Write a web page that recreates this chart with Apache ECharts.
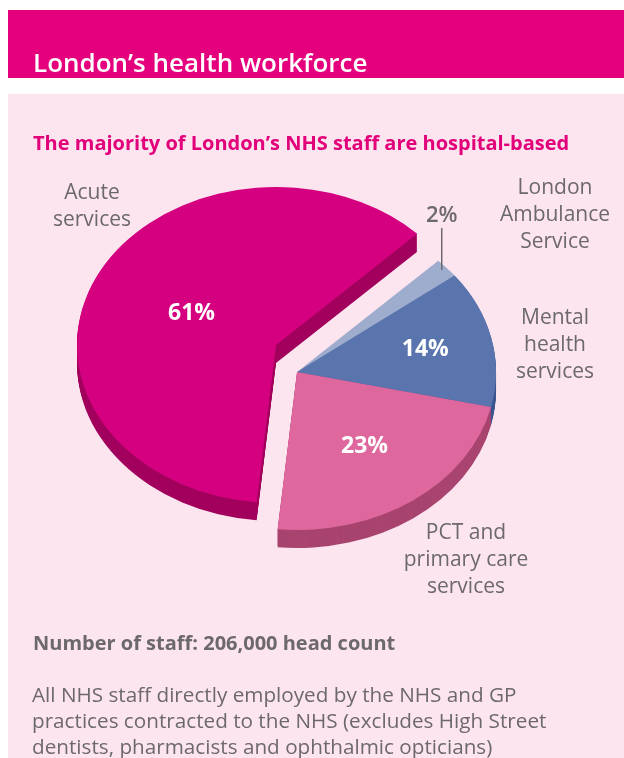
<!DOCTYPE html>
<html>
<head>
<meta charset="utf-8">
<script src="https://cdn.jsdelivr.net/npm/echarts@6/dist/echarts.min.js"></script>
<style>
html,body{margin:0;padding:0;background:#ffffff;}
#c{width:624px;height:758px;}
</style>
</head>
<body>
<div id="c"></div>
<script>
// ---- data ----
const categories = ['London Ambulance Service', 'Mental health services', 'PCT and primary care services', 'Acute services'];
const shares = [2, 14, 23, 61];
const categoryLabelLines = [['London', 'Ambulance', 'Service'], ['Mental', 'health', 'services'], ['PCT and', 'primary care', 'services'], ['Acute', 'services']];
const headerText = 'London\u2019s health workforce';
const titleText = 'The majority of London\u2019s NHS staff are hospital-based';
const staffNote = 'Number of staff: 206,000 head count';
const footnoteLines = ['All NHS staff directly employed by the NHS and GP', 'practices contracted to the NHS (excludes High Street', 'dentists, pharmacists and ophthalmic opticians)'];

// ---- style ----
const FONT = '"Open Sans", "Noto Sans", sans-serif';
const GREY = '#6d686d';
const topColors = ['#9eaccd', '#5a74ae', '#de689d', '#d5007f'];
const sideColors = ['#7687ab', '#3d5690', '#a8446f', '#a2005d'];
const pie = { cx: 297, cy: 372, rx: 199, ry: 158, depth: 18, startDeg: 44.8 };
const explode = [[0, 0], [0, 0], [0, 0], [-21, -27]];
const labelRadius = [null, 0.66, 0.58, 0.47];
const outerLabelPos = [[555, 215], [555, 345], [466, 560], [92, 207]];

const total = shares.reduce((a, b) => a + b, 0);
const cumBefore = shares.map((v, i) => shares.slice(0, i).reduce((a, b) => a + b, 0));

const chart = echarts.init(document.getElementById('c'), null, { renderer: 'canvas' });

function renderSlice(params, api) {
  const i = params.dataIndex;
  const v = api.value(0);
  const a0 = -pie.startDeg * Math.PI / 180 + cumBefore[i] / total * Math.PI * 2;
  const a1 = a0 + v / total * Math.PI * 2;
  const cx = pie.cx + explode[i][0];
  const cy = pie.cy + explode[i][1];
  const s = pie.ry / pie.rx;
  const children = [];
  for (let k = pie.depth; k >= 1; k--) {
    children.push({
      type: 'sector', x: cx, y: cy + k, scaleY: s, z2: 1,
      shape: { cx: 0, cy: 0, r0: 0, r: pie.rx, startAngle: a0, endAngle: a1 },
      style: { fill: sideColors[i] }, silent: true
    });
  }
  children.push({
    type: 'sector', x: cx, y: cy, scaleY: s, z2: 10,
    shape: { cx: 0, cy: 0, r0: 0, r: pie.rx, startAngle: a0, endAngle: a1 },
    style: { fill: topColors[i] }
  });
  const mid = (a0 + a1) / 2;
  const pctText = v + '%';
  if (labelRadius[i] != null) {
    const rf = labelRadius[i];
    children.push({
      type: 'text', z2: 20,
      x: cx + rf * pie.rx * Math.cos(mid),
      y: cy + rf * pie.ry * Math.sin(mid),
      style: { text: pctText, fill: '#ffffff', font: 'bold 23px ' + FONT, align: 'center', verticalAlign: 'middle' }
    });
  } else {
    const px = cx + pie.rx * Math.cos(mid) - 5;
    const py = cy + pie.ry * Math.sin(mid) + 2;
    children.push({
      type: 'line', z2: 20,
      shape: { x1: px, y1: py, x2: px, y2: py - 42 },
      style: { stroke: GREY, lineWidth: 1.5 }
    });
    children.push({
      type: 'text', z2: 20, x: px, y: py - 54,
      style: { text: pctText, fill: GREY, font: '600 22px ' + FONT, align: 'center', verticalAlign: 'middle' }
    });
  }
  return { type: 'group', children: children };
}

const graphics = [
  { type: 'rect', shape: { x: 8, y: 10, width: 616, height: 68 }, style: { fill: '#e5007e' }, z: -10 },
  { type: 'rect', shape: { x: 8, y: 94, width: 616, height: 664 }, style: { fill: '#fce5ef' }, z: -10 },
  { type: 'text', x: 33, y: 52, style: { text: headerText, fill: '#ffffff', font: '600 26px ' + FONT, verticalAlign: 'alphabetic' } },
  { type: 'text', x: 33, y: 134, style: { text: titleText, fill: '#e2007a', font: 'bold 20px ' + FONT, verticalAlign: 'alphabetic' } },
  { type: 'text', x: 33, y: 634, style: { text: staffNote, fill: GREY, font: 'bold 20px ' + FONT, verticalAlign: 'alphabetic' } }
];
footnoteLines.forEach((t, j) => {
  graphics.push({ type: 'text', x: 32, y: 686 + j * 26, style: { text: t, fill: GREY, font: '20.7px ' + FONT, verticalAlign: 'alphabetic' } });
});
categoryLabelLines.forEach((lines, i) => {
  graphics.push({
    type: 'text', x: outerLabelPos[i][0], y: outerLabelPos[i][1],
    style: { text: lines.join('\n'), fill: GREY, font: '21px ' + FONT, lineHeight: 27, align: 'center', verticalAlign: 'middle' }
  });
});

chart.setOption({
  animation: false,
  graphic: graphics,
  series: [{
    type: 'custom',
    coordinateSystem: 'none',
    renderItem: renderSlice,
    data: shares.map((v, i) => ({ name: categories[i], value: [v] }))
  }]
});
</script>
</body>
</html>
